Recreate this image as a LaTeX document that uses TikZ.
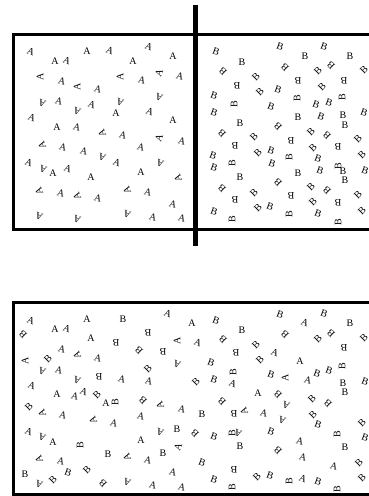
\documentclass[tikz,border=0pt]{standalone}
\usepackage{fontspec}
\setmainfont{Liberation Serif}
\begin{document}
\begin{tikzpicture}[x=1pt,y=-1pt,
  letter/.style={inner sep=0pt, font=\fontsize{10}{11}\selectfont},
  wall/.style={line width=3pt},
  divider/.style={line width=5pt}]
\useasboundingbox (0,0) rectangle (369,496);
\clip (0,0) rectangle (369,496);
% top container with divider
\draw[wall] (380,34) -- (13,34) -- (13,229) -- (380,229);
\draw[divider] (195,5) -- (195,246);
% bottom container
\draw[wall] (380,302) -- (13,302) -- (13,494.5) -- (380,494.5);
% A molecules (top, left chamber)
\foreach \x/\y/\r in {31/52/-20,55/61/0,67/61/-20,87/51/0,110/51/-20,133/61/0,149/47/-20,173/56/0,
 40/77/90,62/81/-15,77/87/90,98/89/-15,120/77/90,142/80/-15,159/73/70,180/76/-15,
 42/103/160,59/101/-15,77/111/160,92/105/-20,120/102/160,116/113/0,159/97/160,150/112/-20,
 32/118/-20,173/120/0,57/127/0,77/127/-15,102/133/110,123/135/-15,159/138/70,182/141/-15,
 42/145/110,63/147/-15,84/151/-15,102/157/160,117/163/-20,141/147/-15,160/163/160,
 29/163/-20,43/169/160,53/173/0,68/169/-20,91/177/0,141/172/0,178/178/110,
 39/191/110,61/193/-15,77/196/110,98/198/-15,127/190/110,148/192/-15,173/204/-15,
 39/216/160,77/219/160,127/214/160,153/217/-15,182/218/-15}
  \node[letter,rotate=\r] at (\x,\y) {A};
% B molecules (top, right chamber)
\foreach \x/\y/\r in {216/52/-20,242/62/0,280/47/-20,305/56/0,324/47/-20,350/56/0,
 223/71/135,256/77/45,285/67/135,298/81/180,318/71/45,331/65/135,344/81/180,364/70/45,
 237/86/180,260/92/45,278/90/-20,214/96/-20,234/104/90,297/98/90,322/87/45,316/105/-20,
 329/103/-20,342/97/90,271/107/-20,214/113/-20,240/123/0,298/117/0,321/117/-20,343/115/0,
 345/125/0,364/113/-20,278/126/135,222/133/135,254/137/45,311/132/45,327/135/135,358/139/45,
 235/146/180,291/141/180,313/148/45,338/147/180,258/153/45,271/151/-20,213/156/-20,289/157/90,
 362/155/45,232/163/90,214/168/-20,272/164/-20,318/159/-20,338/166/90,343/171/0,298/173/0,
 320/171/-20,365/171/-20,240/177/0,345/180/0,222/188/135,278/182/135,311/187/45,327/190/135,
 358/195/45,254/193/45,235/200/180,291/196/180,313/202/45,338/203/180,258/208/45,270/207/-20,
 214/212/-20,289/214/90,362/211/45,232/219/90,318/214/-20,338/222/90}
  \node[letter,rotate=\r] at (\x,\y) {B};
% mixed molecules (bottom)
\foreach \x/\y/\r/\t in {31/321/-20/A,55/329/0/A,67/329/-20/A,87/319/0/A,123/319/0/B,168/314/-20/A,192/323/0/A,
 23/334/135/B,91/338/0/A,148/333/180/B,116/343/180/B,139/350/135/B,163/352/180/B,177/341/90/A,198/343/-20/A,
 62/349/-15/A,77/355/110/A,98/358/-15/A,25/361/90/A,48/359/45/B,42/371/160/A,59/370/-15/A,99/377/180/B,
 77/380/160/A,122/379/-15/A,148/369/45/B,149/381/-15/A,177/364/160/A,196/382/45/B,32/386/-20/A,
 57/394/0/A,75/396/-15/A,84/392/-20/A,97/395/45/B,106/403/0/A,115/402/90/B,143/400/135/B,160/405/110/A,
 182/409/-15/A,29/407/45/B,42/413/110/A,63/415/-15/A,93/420/110/A,114/423/-15/A,141/416/-15/A,
 29/432/-20/A,42/437/160/A,53/442/0/A,80/445/90/B,141/440/0/A,160/432/160/A,177/429/0/B,195/433/135/B,
 39/459/110/A,61/461/-15/A,108/454/0/B,127/457/110/A,148/460/-15/A,163/453/0/B,178/447/70/A,
 25/474/0/B,39/484/160/A,53/480/45/B,68/473/-20/B,87/470/45/B,103/483/135/B,127/482/160/A,
 153/485/-15/A,173/472/-15/A,182/487/-15/A,
 216/321/-20/B,242/330/0/B,280/315/-20/B,305/323/-20/A,324/314/-20/B,350/323/0/B,
 223/339/135/B,256/345/45/B,285/334/135/B,275/353/-20/A,318/339/45/B,331/333/135/B,344/348/180/B,
 364/338/45/B,236/353/180/B,260/360/45/B,300/361/0/A,211/363/-20/B,233/372/90/B,271/375/-20/B,
 285/378/90/A,308/380/-15/A,317/374/-20/B,329/371/-20/B,342/366/90/B,214/380/-20/B,233/384/-20/A,
 343/383/0/B,345/392/0/B,365/382/-20/B,258/393/0/A,278/394/135/B,286/405/160/A,312/399/45/B,
 328/403/135/B,222/401/135/B,202/414/0/B,234/414/180/B,244/411/110/A,264/413/-15/A,282/420/160/A,
 313/415/45/B,318/425/-20/B,362/423/45/B,214/437/-20/B,232/433/90/B,238/433/160/A,271/432/-20/B,
 240/446/0/B,337/434/90/B,365/438/-20/B,300/441/-15/A,345/447/0/B,278/450/135/B,303/457/-15/A,
 202/463/-20/B,234/470/180/B,334/466/-15/A,359/463/45/B,257/477/45/B,270/476/-20/B,289/481/90/B,
 303/479/-20/A,318/482/-20/B,214/480/-20/B,232/487/90/B,362/478/45/B,337/489/90/B}
  \node[letter,rotate=\r] at (\x,\y) {\t};
\end{tikzpicture}
\end{document}
